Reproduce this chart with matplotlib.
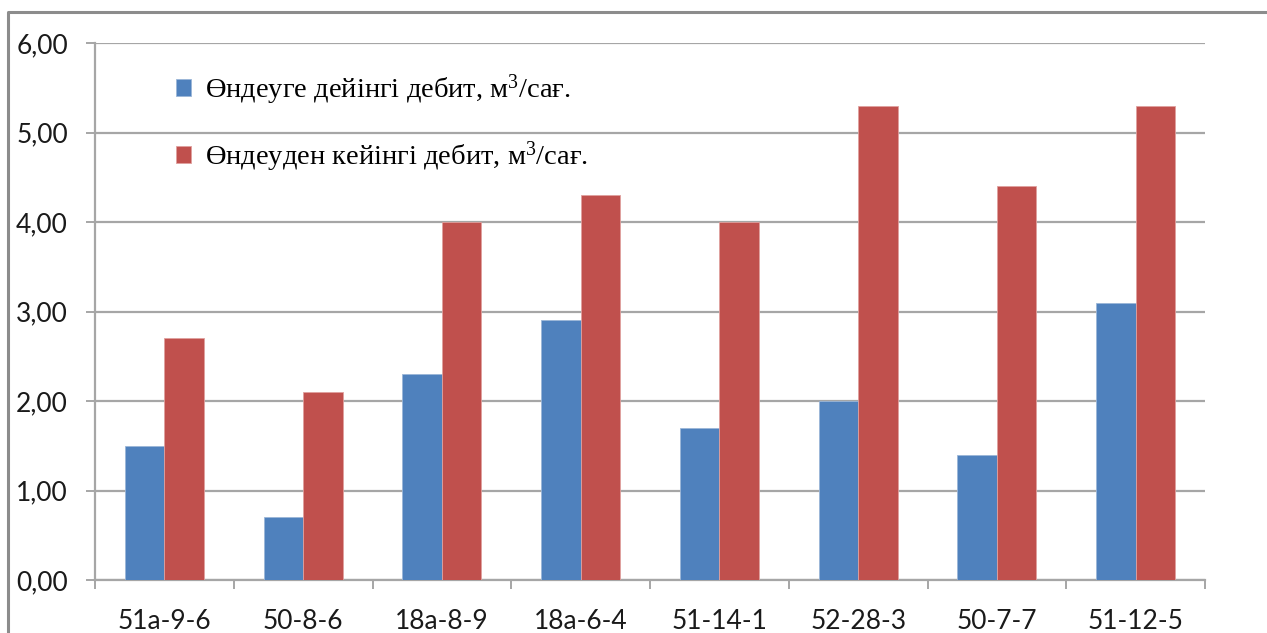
import numpy as np
import matplotlib.pyplot as plt
from matplotlib.lines import Line2D
from matplotlib.ticker import FixedLocator

# Well names and flow rates before / after treatment
wells = ['51а-9-6', '50-8-6', '18а-8-9', '18а-6-4', '51-14-1', '52-28-3', '50-7-7', '51-12-5']
before = [1.5, 0.7, 2.3, 2.9, 1.7, 2.0, 1.4, 3.1]
after = [2.7, 2.1, 4.0, 4.3, 4.0, 5.3, 4.4, 5.3]
yticks = [0, 1, 2, 3, 4, 5, 6]
ytick_labels = ['0,00', '1,00', '2,00', '3,00', '4,00', '5,00', '6,00']
label_before = 'Өндеуге дейінгі дебит, м$^3$/сағ.'
label_after = 'Өндеуден кейінгі дебит, м$^3$/сағ.'

plt.rcParams['mathtext.fontset'] = 'custom'
plt.rcParams['mathtext.rm'] = 'Liberation Serif'
plt.rcParams['mathtext.it'] = 'Liberation Serif'

grid_col = '#a6a6a6'
blue = '#4f81bd'
red = '#c0504d'

fig = plt.figure(figsize=(12.67, 6.33), dpi=100)
ax = fig.add_axes([95 / 1267, 1 - 580 / 633, 1110 / 1267, 537 / 633])

# outer chart frame: only the top and left edges are in view
fx, fy = 8 / 1267, 1 - 12 / 633
fig.add_artist(Line2D([fx, fx, 1.2], [-0.2, fy, fy], transform=fig.transFigure,
                      color='#8c8c8c', linewidth=2.2))

x = np.arange(len(wells))
w = 0.285
ax.bar(x - w / 2, before, w, color=blue, edgecolor='#9bb6d8', linewidth=0.6,
       label=label_before, zorder=3)
ax.bar(x + w / 2, after, w, color=red, edgecolor='#e0a09e', linewidth=0.6,
       label=label_after, zorder=3)

ax.set_xlim(-0.5, len(wells) - 0.5)
ax.set_ylim(0, 6)

ax.set_yticks(yticks)
ax.set_yticklabels(ytick_labels, family='Lato', fontsize=19, color='#1a1a1a')
ax.yaxis.grid(True, color=grid_col, linewidth=1.6, zorder=0)
ax.tick_params(axis='y', direction='out', length=6.5, width=1.4,
               color=grid_col, pad=13)

ax.set_xticks(x)
ax.set_xticklabels(wells, family='Lato', fontsize=19, color='#1a1a1a')
ax.xaxis.set_minor_locator(FixedLocator(np.arange(-0.5, len(wells), 1.0)))
ax.tick_params(axis='x', which='major', length=0, pad=21)
ax.tick_params(axis='x', which='minor', direction='out', length=6.5,
               width=1.4, color=grid_col)

for side in ['top', 'right']:
    ax.spines[side].set_visible(False)
for side in ['left', 'bottom']:
    ax.spines[side].set_color(grid_col)
    ax.spines[side].set_linewidth(1.6)

leg = ax.legend(loc='upper left', bbox_to_anchor=(0.05, 0.993), frameon=False,
                prop={'family': 'Liberation Serif', 'size': 20.5},
                handlelength=0.52, handleheight=0.52, handletextpad=0.5,
                labelspacing=1.15)

fig.savefig('out.png', dpi=100)
